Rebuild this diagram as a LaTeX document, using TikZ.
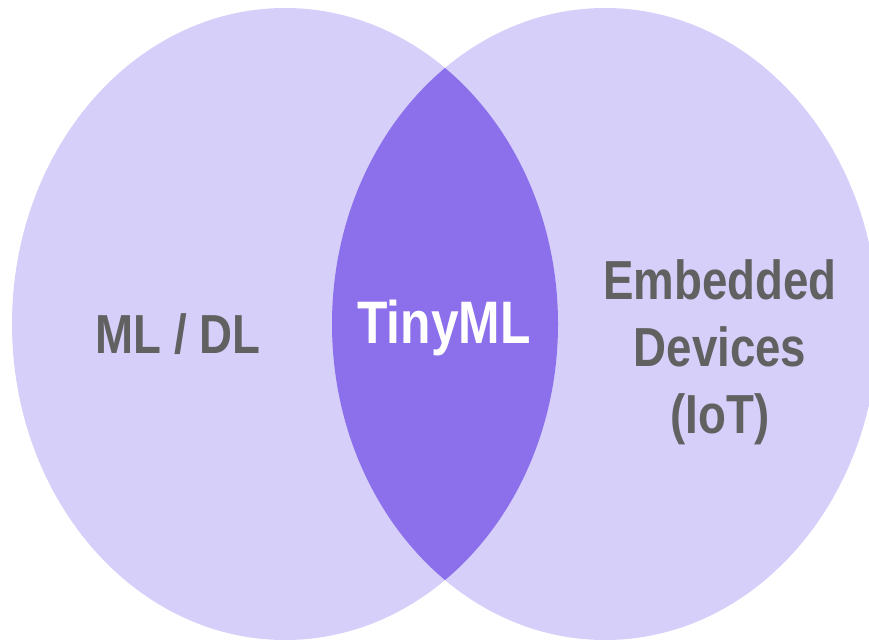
\documentclass[tikz,border=0pt]{standalone}
\usepackage{fontspec}
\newfontfamily\labfont{Liberation Sans}[FakeStretch=0.83]
\definecolor{lightv}{HTML}{D6CFFA}
\definecolor{darkv}{HTML}{8B6FEB}
\definecolor{txtgray}{HTML}{616161}
\begin{document}
\begin{tikzpicture}[x=1pt,y=-1pt,
  lab/.style={font=\labfont\bfseries\fontsize{55}{67}\selectfont, text=txtgray, inner sep=0pt, anchor=base},
  core/.style={font=\labfont\bfseries\fontsize{60}{70}\selectfont, text=white, inner sep=0pt, anchor=base}]
\useasboundingbox (0,0) rectangle (869,642);
\clip (0,0) rectangle (869,642);
\fill[lightv] (285,324) ellipse [x radius=273, y radius=316];
\fill[lightv] (605,324) ellipse [x radius=273, y radius=316];
\begin{scope}
  \clip (285,324) ellipse [x radius=273, y radius=316];
  \fill[darkv] (605,324) ellipse [x radius=273, y radius=316];
\end{scope}
\node[lab] (ml) at (178,353) {ML / DL};
\node[core] (tiny) at (444,343) {TinyML};
\node[lab] (emb) at (720,299) {Embedded};
\node[lab] (dev) at (720,366) {Devices};
\node[lab] (iot) at (720,433) {(IoT)};
\end{tikzpicture}
\end{document}
